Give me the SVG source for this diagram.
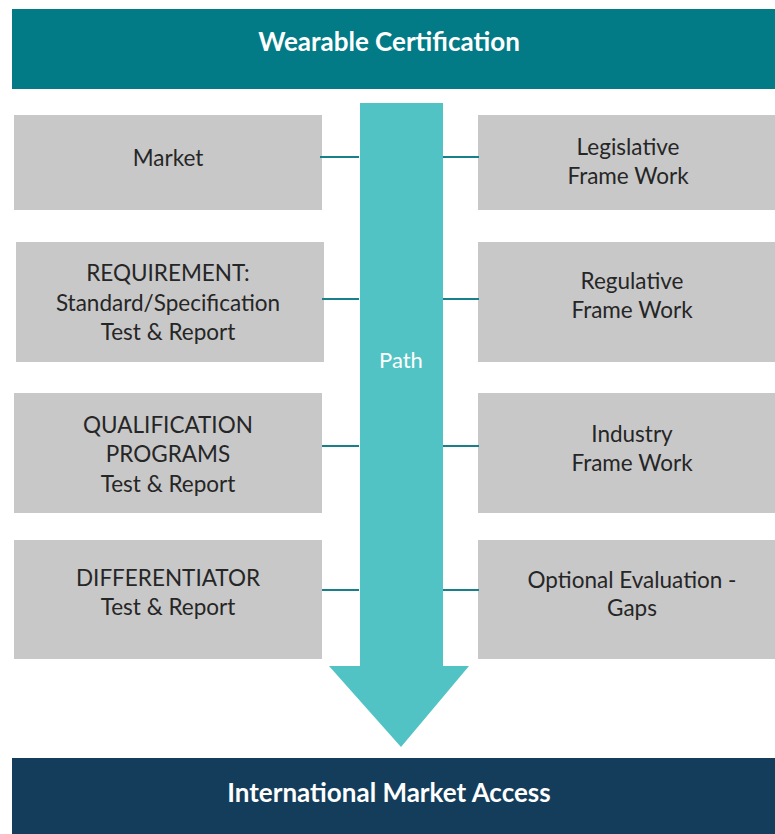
<svg xmlns="http://www.w3.org/2000/svg" width="775" height="834" viewBox="0 0 775 834">
<style>
.box{fill:#c8c8c9}
.t{font-family:Lato,"Noto Sans",sans-serif;font-size:22.5px;fill:#262626;text-anchor:middle}
.ban{font-family:Lato,"Noto Sans",sans-serif;font-size:26px;font-weight:bold;fill:#ffffff;text-anchor:middle}
.con{stroke:#17808a;stroke-width:2;fill:none}
</style>
<rect width="775" height="834" fill="#ffffff"/>
<g id="top">
<rect x="12" y="9" width="763" height="80" fill="#027b87"/>
<text class="ban" x="389" y="51">Wearable Certification</text>
</g>
<g id="path">
<path d="M360 103 H443 V666 H469 L401 747 L329 666 H360 Z" fill="#52c3c4"/>
<text x="401" y="368" font-family="Lato,'Noto Sans',sans-serif" font-size="22" fill="#ffffff" text-anchor="middle">Path</text>
</g>
<g id="bottom">
<rect x="12" y="758" width="763" height="76" fill="#133d5a"/>
<text class="ban" x="389" y="802">International Market Access</text>
</g>
<g id="market">
<rect class="box" x="14" y="115" width="308" height="95"/>
<text class="t" x="168" y="166">Market</text>
</g>
<g id="requirement">
<rect class="box" x="16" y="242" width="308" height="120"/>
<text class="t" x="168" y="281">REQUIREMENT:</text>
<text class="t" x="168" y="311">Standard/Specification</text>
<text class="t" x="168" y="340">Test &amp; Report</text>
</g>
<g id="qualification">
<rect class="box" x="14" y="393" width="308" height="120"/>
<text class="t" x="168" y="433">QUALIFICATION</text>
<text class="t" x="168" y="462">PROGRAMS</text>
<text class="t" x="168" y="492">Test &amp; Report</text>
</g>
<g id="differentiator">
<rect class="box" x="14" y="540" width="308" height="119"/>
<text class="t" x="168" y="586">DIFFERENTIATOR</text>
<text class="t" x="168" y="615">Test &amp; Report</text>
</g>
<g id="legislative">
<rect class="box" x="478" y="115" width="297" height="95"/>
<text class="t" x="628" y="155">Legislative</text>
<text class="t" x="628" y="184">Frame Work</text>
</g>
<g id="regulative">
<rect class="box" x="478" y="242" width="297" height="120"/>
<text class="t" x="632" y="289">Regulative</text>
<text class="t" x="632" y="318">Frame Work</text>
</g>
<g id="industry">
<rect class="box" x="478" y="393" width="297" height="120"/>
<text class="t" x="632" y="442">Industry</text>
<text class="t" x="632" y="471">Frame Work</text>
</g>
<g id="optional">
<rect class="box" x="478" y="540" width="297" height="119"/>
<text class="t" x="632" y="588">Optional Evaluation -</text>
<text class="t" x="632" y="616">Gaps</text>
</g>
<g id="connectors">
<line class="con" x1="320" y1="157" x2="359" y2="157"/>
<line class="con" x1="443" y1="157" x2="479" y2="157"/>
<line class="con" x1="322" y1="299" x2="359" y2="299"/>
<line class="con" x1="443" y1="299" x2="479" y2="299"/>
<line class="con" x1="322" y1="446" x2="359" y2="446"/>
<line class="con" x1="443" y1="446" x2="479" y2="446"/>
<line class="con" x1="322" y1="590" x2="359" y2="590"/>
<line class="con" x1="443" y1="590" x2="479" y2="590"/>
</g>
</svg>
